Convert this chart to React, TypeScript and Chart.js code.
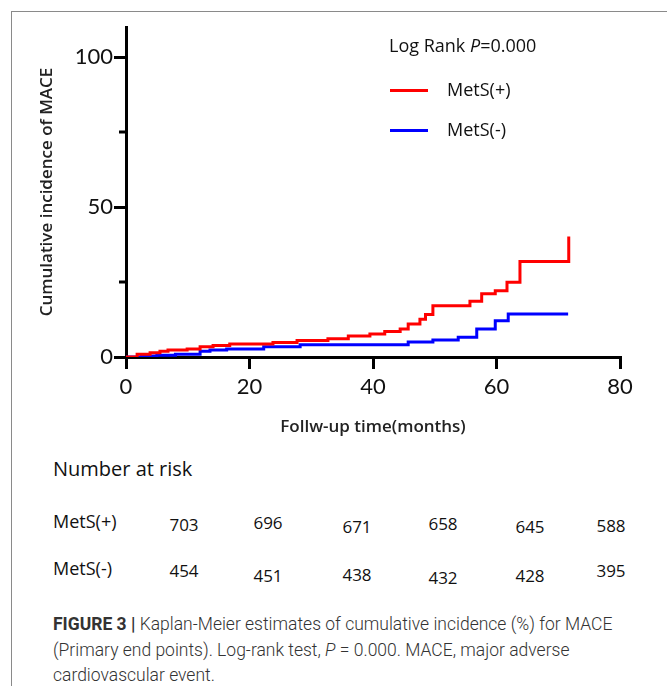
import React, { useEffect, useRef } from "react";
import { Chart, registerables } from "chart.js";

Chart.register(...registerables);

// ---- data ----
const metsPosMonths = [0, 1.8, 3.9, 5.5, 6.8, 9.9, 12.0, 14.1, 16.8, 23.8, 27.7, 32.7, 36.0, 39.5, 41.9, 44.4, 45.7, 47.6, 48.5, 49.7, 55.7, 57.6, 59.8, 61.7, 63.8, 71.7];
const metsPosIncidence = [0, 0.9, 1.4, 1.9, 2.3, 2.7, 3.4, 3.8, 4.3, 4.8, 5.5, 6.1, 7.0, 7.7, 8.5, 9.3, 11.0, 12.6, 14.2, 17.1, 18.6, 21.1, 22.1, 24.9, 31.8, 40.2];

const metsNegMonths = [0, 2.5, 5.0, 8.0, 12.0, 13.6, 16.3, 22.3, 28.2, 45.7, 49.7, 53.8, 56.8, 59.8, 61.9, 71.6];
const metsNegIncidence = [0, 0.3, 0.6, 0.9, 1.9, 2.3, 2.7, 3.4, 4.1, 5.0, 5.7, 6.6, 9.3, 12.1, 14.3, 14.3];

const xTickStep = 20;
const yTickStep = 50;
const yMinorTicks = [25, 75];

const seriesNames = ["MetS(+)", "MetS(-)"];
const riskMetsPos = [703, 696, 671, 658, 645, 588];
const riskMetsNeg = [454, 451, 438, 432, 428, 395];

// ---- layout (not data) ----
const riskColX = [184, 268, 357, 443, 530, 611];
const riskRow1Dy = [0, -2, 2, -1, 2, 1];
const riskRow2Dy = [0, 5, 4, 7, 5, 0];

const RED = "#ff0000";
const BLUE = "#0000ff";
const FONT = "'Open Sans', Lato, sans-serif";
const TICKFONT = "Lato, 'Open Sans', sans-serif";

const minorTickPlugin = {
  id: "minorTicks",
  afterDraw(chart: any) {
    const y = chart.scales.y;
    const ctx = chart.ctx;
    const x0 = chart.chartArea.left;
    ctx.save();
    ctx.strokeStyle = "#000";
    ctx.lineWidth = 3;
    yMinorTicks.forEach((v) => {
      const py = y.getPixelForValue(v);
      ctx.beginPath();
      ctx.moveTo(x0 - 7, py);
      ctx.lineTo(x0, py);
      ctx.stroke();
    });
    ctx.restore();
  },
};

function Txt(props: { x: number; y: number; size: number; children: any; center?: boolean; weight?: number; family?: string; color?: string }) {
  const lh = props.size * 1.2;
  return (
    <div
      style={{
        position: "absolute",
        left: props.center ? props.x - 60 : props.x,
        width: props.center ? 120 : undefined,
        textAlign: props.center ? "center" : "left",
        top: props.y - lh / 2,
        height: lh,
        lineHeight: lh + "px",
        fontSize: props.size,
        fontFamily: props.family || FONT,
        fontWeight: props.weight || 400,
        color: props.color || "#111",
        whiteSpace: "nowrap",
      }}
    >
      {props.children}
    </div>
  );
}

export default function App() {
  const ref = useRef<HTMLCanvasElement | null>(null);

  useEffect(() => {
    if (!ref.current) return;
    const chart = new Chart(ref.current, {
      type: "line",
      data: {
        datasets: [
          {
            label: seriesNames[0],
            data: metsPosMonths.map((m, i) => ({ x: m, y: metsPosIncidence[i] })),
            borderColor: RED,
            borderWidth: 3,
            pointRadius: 0,
            stepped: "before",
            fill: false,
            borderJoinStyle: "miter",
            borderCapStyle: "butt",
          },
          {
            label: seriesNames[1],
            data: metsNegMonths.map((m, i) => ({ x: m, y: metsNegIncidence[i] })),
            borderColor: BLUE,
            borderWidth: 3,
            pointRadius: 0,
            stepped: "before",
            fill: false,
            borderJoinStyle: "miter",
            borderCapStyle: "butt",
          },
        ],
      },
      options: {
        responsive: false,
        animation: false,
        layout: { padding: { left: 37, top: 27, right: 47, bottom: 0 } },
        plugins: { legend: { display: false }, tooltip: { enabled: false } },
        scales: {
          x: {
            type: "linear",
            min: 0,
            max: 80,
            afterFit: (s: any) => {
              s.height = 80;
            },
            ticks: { stepSize: xTickStep, color: "#111", font: { family: TICKFONT, size: 22 }, padding: 5, maxRotation: 0 },
            grid: { drawOnChartArea: false, drawTicks: true, tickLength: 12, lineWidth: 3, color: "#000" },
            border: { display: true, width: 3, color: "#000" },
            title: {
              display: true,
              text: "Follw-up time(months)",
              color: "#222",
              font: { family: FONT, size: 17, weight: "600" },
              padding: 0,
            },
          },
          y: {
            type: "linear",
            min: 0,
            max: 110,
            afterFit: (s: any) => {
              s.width = 89;
            },
            ticks: { stepSize: yTickStep, includeBounds: false, color: "#111", font: { family: TICKFONT, size: 22 }, padding: 1 },
            grid: { drawOnChartArea: false, drawTicks: true, tickLength: 12, lineWidth: 3, color: "#000" },
            border: { display: true, width: 3, color: "#000" },
            title: {
              display: true,
              text: "Cumulative incidence of MACE",
              color: "#222",
              font: { family: FONT, size: 17, weight: "600" },
              padding: 0,
            },
          },
        },
      },
      plugins: [minorTickPlugin],
    } as any);
    return () => chart.destroy();
  }, []);

  return (
    <div style={{ position: "absolute", left: 0, top: 0, width: 667, height: 686, overflow: "hidden", background: "#fff" }}>
      <div style={{ position: "absolute", left: 11, top: 11, width: 720, height: 720, border: "1px solid #8a8a8a" }} />
      <canvas ref={ref} width={667} height={437} style={{ position: "absolute", left: 0, top: 0, display: "block" }} />

      <Txt x={389} y={46} size={18}>
        Log Rank <i>P</i>=0.000
      </Txt>
      <div style={{ position: "absolute", left: 390, top: 88.5, width: 38, height: 3, background: RED }} />
      <Txt x={447} y={90} size={18}>{seriesNames[0]}</Txt>
      <div style={{ position: "absolute", left: 390, top: 128.5, width: 38, height: 3, background: BLUE }} />
      <Txt x={447} y={130} size={18}>{seriesNames[1]}</Txt>

      <Txt x={53} y={469} size={20}>Number at risk</Txt>
      <Txt x={53} y={522} size={18}>{seriesNames[0]}</Txt>
      <Txt x={53} y={569} size={18}>{seriesNames[1]}</Txt>
      {riskMetsPos.map((v, i) => (
        <Txt key={"p" + i} x={riskColX[i]} y={525 + riskRow1Dy[i]} size={17} center>
          {v}
        </Txt>
      ))}
      {riskMetsNeg.map((v, i) => (
        <Txt key={"n" + i} x={riskColX[i]} y={571 + riskRow2Dy[i]} size={17} center>
          {v}
        </Txt>
      ))}

      <div
        style={{
          position: "absolute",
          left: 53,
          top: 612,
          width: 620,
          fontFamily: "Roboto, 'Liberation Sans', sans-serif",
          fontWeight: 300,
          fontSize: 17.5,
          lineHeight: "25.5px",
          color: "#333",
          whiteSpace: "nowrap",
        }}
      >
        <b style={{ fontWeight: 700 }}>FIGURE 3 |</b> Kaplan-Meier estimates of cumulative incidence (%) for MACE
        <br />
        (Primary end points). Log-rank test, <i>P</i> = 0.000. MACE, major adverse
        <br />
        cardiovascular event.
      </div>
    </div>
  );
}
